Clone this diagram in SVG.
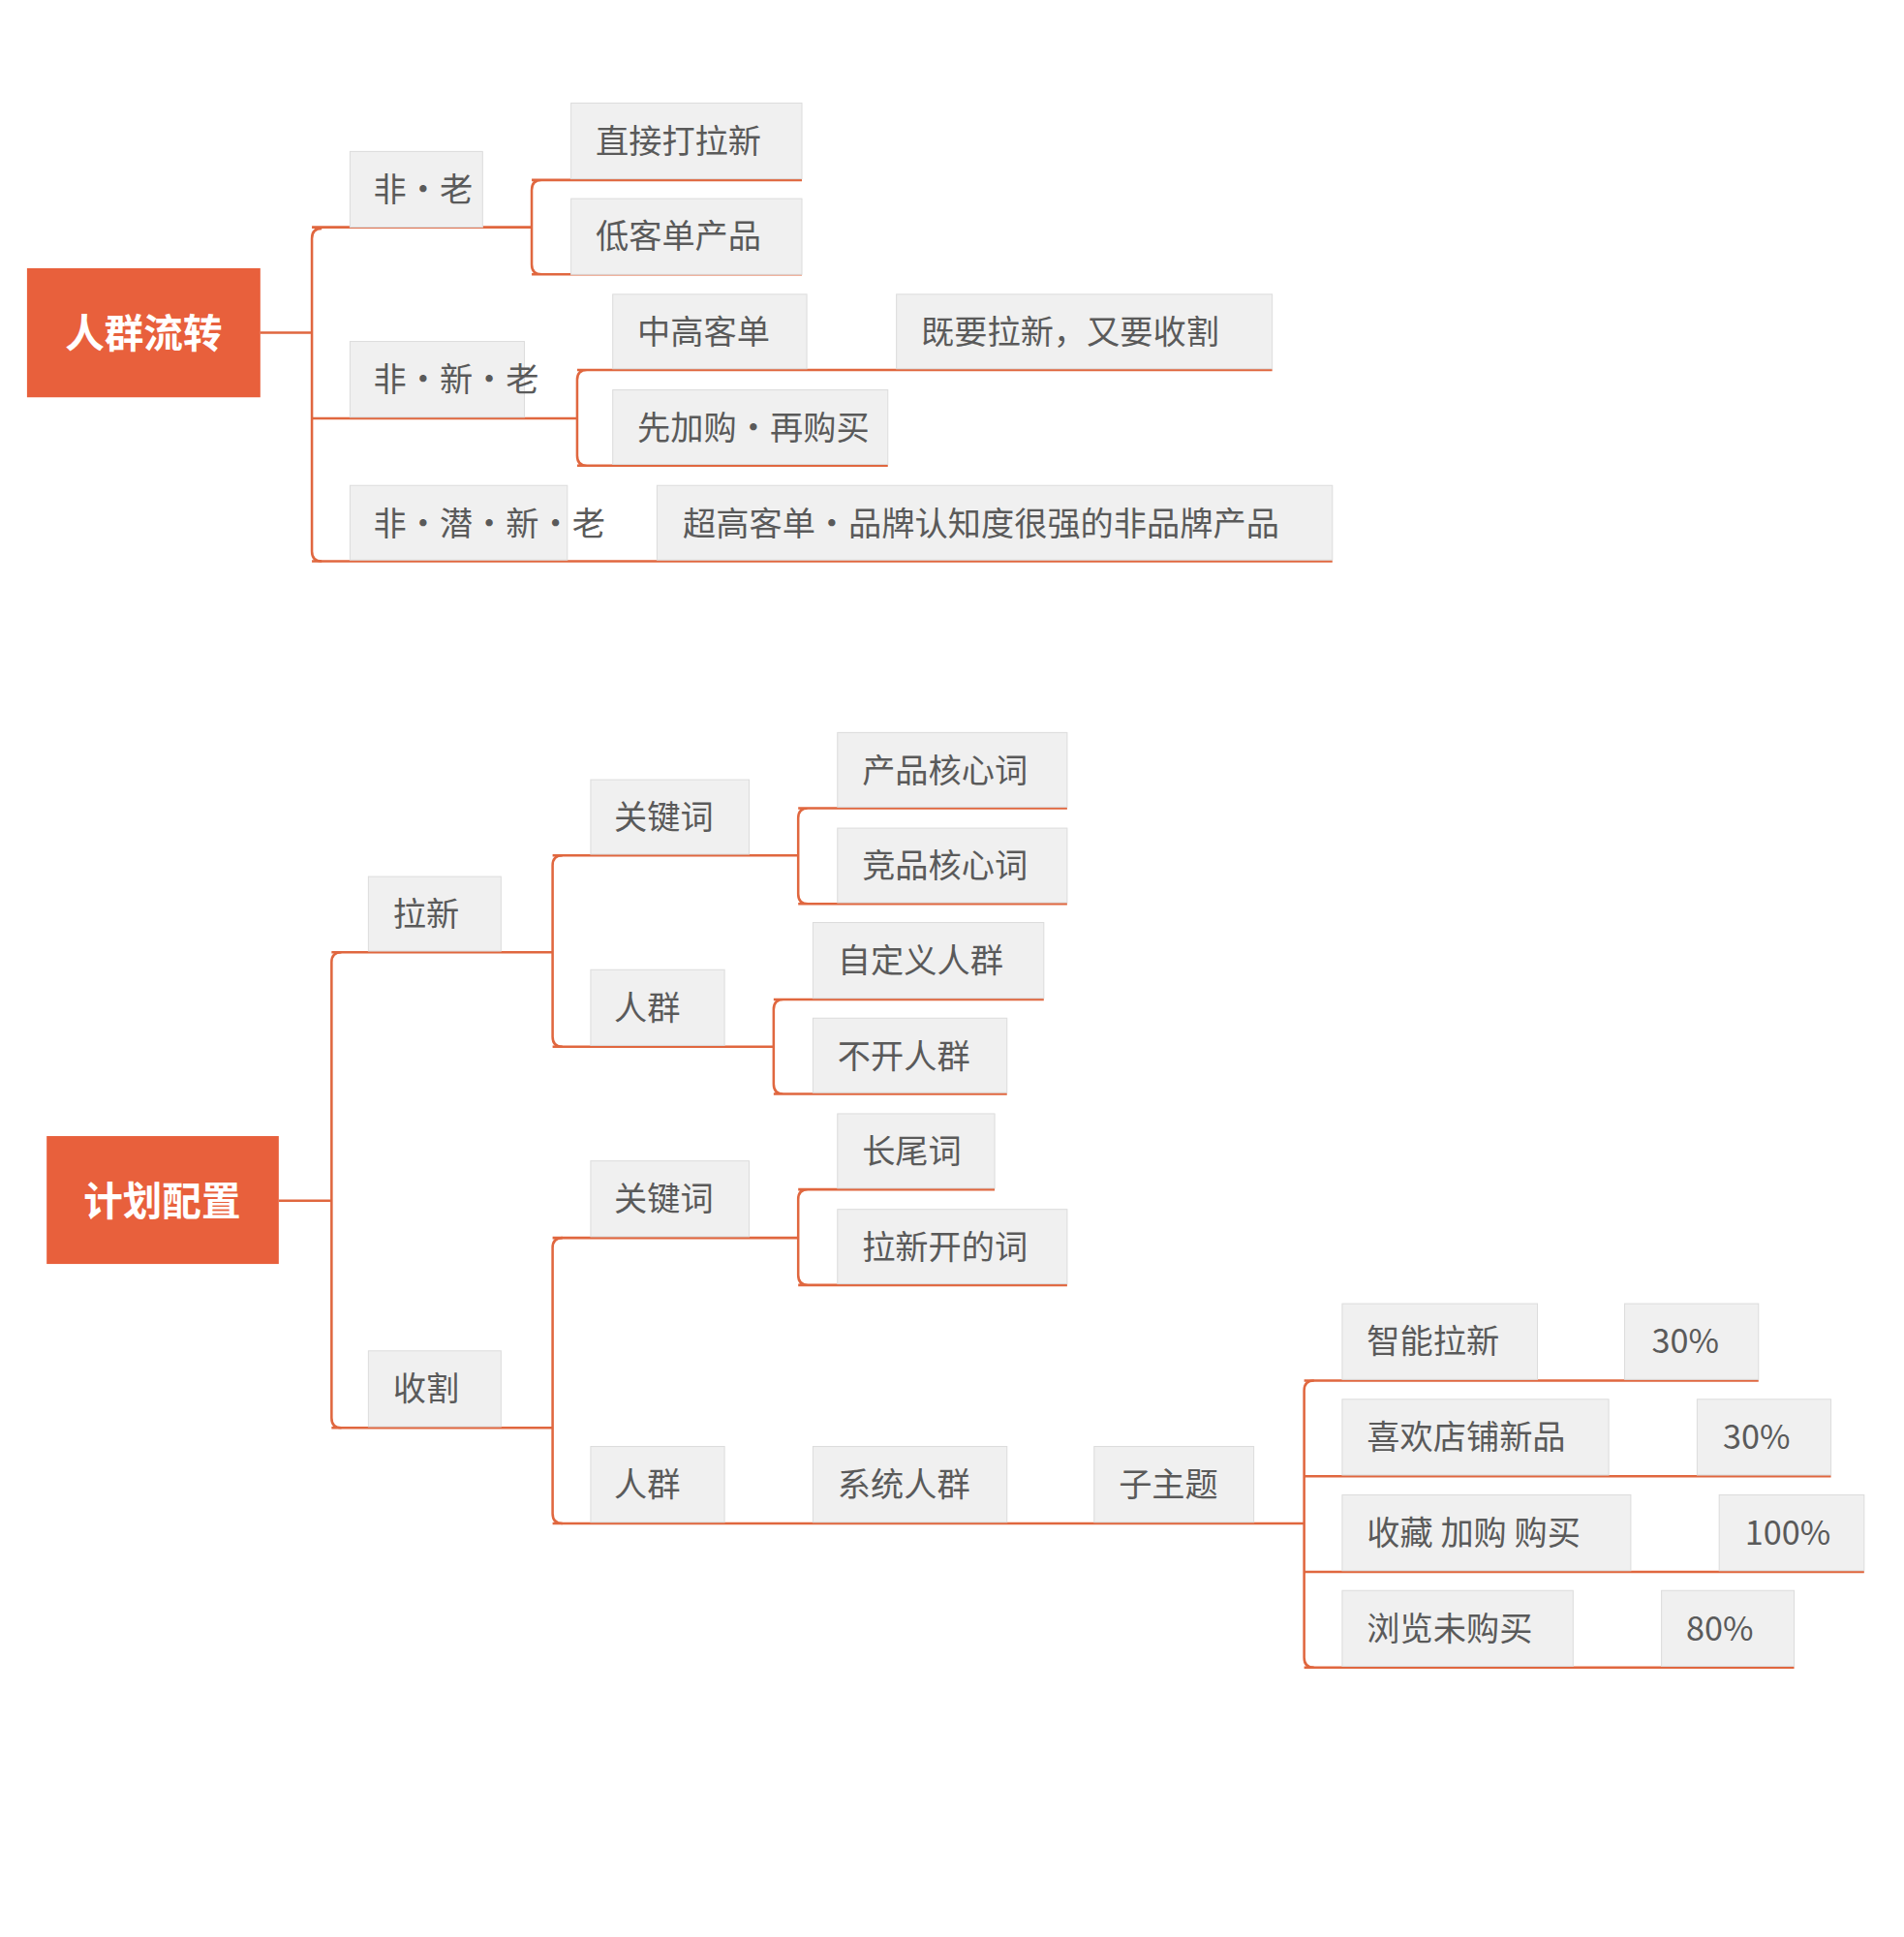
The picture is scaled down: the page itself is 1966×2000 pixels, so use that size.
<svg xmlns="http://www.w3.org/2000/svg" width="1966" height="2000" viewBox="0 0 1966 2000">
<style>
.b{fill:#f0f0f0;stroke:#dcdcdc;stroke-width:0.8}
.t{font-family:"Noto Sans CJK SC","Liberation Sans",sans-serif;font-size:27px;fill:#5a5a5a}
.r{fill:#e8603c}
.rt{font-family:"Noto Sans CJK SC","Liberation Sans",sans-serif;font-size:32px;font-weight:bold;fill:#fff}
.c{fill:none;stroke:#e0673f;stroke-width:2}
</style>
<rect width="1966" height="2000" fill="#fff"/>
<g transform="scale(1.268,1.282)">
<g id="connectors">
<path class="c" d="M212,268H254M262,184Q254,184 254,192V444Q254,452 262,452"/>
<path class="c" d="M254,183H433M441,145Q433,145 433,153V213Q433,221 441,221M433,145H653M433,221H653"/>
<path class="c" d="M254,337H470M478,298Q470,298 470,306V367Q470,375 478,375M470,298H1036M470,375H723"/>
<path class="c" d="M254,452H1085"/>
<path class="c" d="M227,967H270M278,767Q270,767 270,775V1142Q270,1150 278,1150"/>
<path class="c" d="M270,767H450M458,689Q450,689 450,697V835Q450,843 458,843"/>
<path class="c" d="M450,689H650M658,651Q650,651 650,659V720Q650,728 658,728M650,651H869M650,728H869"/>
<path class="c" d="M450,843H630M638,805Q630,805 630,813V873Q630,881 638,881M630,805H850M630,881H820"/>
<path class="c" d="M270,1150H450M458,997Q450,997 450,1005V1219Q450,1227 458,1227"/>
<path class="c" d="M450,997H650M658,958Q650,958 650,966V1027Q650,1035 658,1035M650,958H810M650,1035H869"/>
<path class="c" d="M450,1227H1062M1070,1112Q1062,1112 1062,1120V1335Q1062,1343 1070,1343"/>
<path class="c" d="M1062,1112H1432M1062,1189H1491M1062,1266H1518M1062,1343H1461"/>
</g>
<g id="root1"><rect class="r" x="22" y="216" width="190" height="104"/><text class="rt" x="117" y="280" text-anchor="middle">人群流转</text></g>
<g id="n1"><rect class="b" x="285" y="122" width="108" height="61"/><text class="t" x="304" y="162">非·老</text></g>
<g id="n2"><rect class="b" x="465" y="83" width="188" height="61"/><text class="t" x="485" y="123">直接打拉新</text></g>
<g id="n3"><rect class="b" x="465" y="160" width="188" height="61"/><text class="t" x="485" y="200">低客单产品</text></g>
<g id="n4"><rect class="b" x="285" y="275" width="142" height="61"/><text class="t" x="304" y="315">非·新·老</text></g>
<g id="n5"><rect class="b" x="499" y="237" width="158" height="60"/><text class="t" x="519" y="277">中高客单</text></g>
<g id="n6"><rect class="b" x="730" y="237" width="306" height="60"/><text class="t" x="750" y="277">既要拉新，又要收割</text></g>
<g id="n7"><rect class="b" x="499" y="314" width="224" height="60"/><text class="t" x="519" y="354">先加购·再购买</text></g>
<g id="n8"><rect class="b" x="285" y="391" width="177" height="60"/><text class="t" x="304" y="431">非·潜·新·老</text></g>
<g id="n9"><rect class="b" x="535" y="391" width="550" height="60"/><text class="t" x="556" y="431">超高客单·品牌认知度很强的非品牌产品</text></g>
<g id="root2"><rect class="r" x="38" y="915" width="189" height="103"/><text class="rt" x="132" y="979" text-anchor="middle">计划配置</text></g>
<g id="m1"><rect class="b" x="300" y="706" width="108" height="60"/><text class="t" x="320" y="746">拉新</text></g>
<g id="m2"><rect class="b" x="481" y="628" width="129" height="60"/><text class="t" x="500" y="668">关键词</text></g>
<g id="m3"><rect class="b" x="682" y="590" width="187" height="60"/><text class="t" x="702" y="630">产品核心词</text></g>
<g id="m4"><rect class="b" x="682" y="667" width="187" height="60"/><text class="t" x="702" y="707">竞品核心词</text></g>
<g id="m5"><rect class="b" x="481" y="781" width="109" height="61"/><text class="t" x="500" y="821">人群</text></g>
<g id="m6"><rect class="b" x="662" y="743" width="188" height="61"/><text class="t" x="682" y="783">自定义人群</text></g>
<g id="m7"><rect class="b" x="662" y="820" width="158" height="60"/><text class="t" x="682" y="860">不开人群</text></g>
<g id="m8"><rect class="b" x="300" y="1088" width="108" height="61"/><text class="t" x="320" y="1128">收割</text></g>
<g id="m9"><rect class="b" x="481" y="935" width="129" height="61"/><text class="t" x="500" y="975">关键词</text></g>
<g id="m10"><rect class="b" x="682" y="897" width="128" height="60"/><text class="t" x="702" y="937">长尾词</text></g>
<g id="m11"><rect class="b" x="682" y="974" width="187" height="60"/><text class="t" x="702" y="1014">拉新开的词</text></g>
<g id="m12"><rect class="b" x="481" y="1165" width="109" height="61"/><text class="t" x="500" y="1205">人群</text></g>
<g id="m13"><rect class="b" x="662" y="1165" width="158" height="61"/><text class="t" x="682" y="1205">系统人群</text></g>
<g id="m14"><rect class="b" x="891" y="1165" width="130" height="61"/><text class="t" x="911" y="1205">子主题</text></g>
<g id="m15"><rect class="b" x="1093" y="1050" width="159" height="61"/><text class="t" x="1113" y="1090">智能拉新</text></g>
<g id="m16"><rect class="b" x="1323" y="1050" width="109" height="61"/><text class="t" x="1345" y="1090">30%</text></g>
<g id="m17"><rect class="b" x="1093" y="1127" width="217" height="61"/><text class="t" x="1113" y="1167">喜欢店铺新品</text></g>
<g id="m18"><rect class="b" x="1382" y="1127" width="109" height="61"/><text class="t" x="1403" y="1167">30%</text></g>
<g id="m19"><rect class="b" x="1093" y="1204" width="235" height="61"/><text class="t" x="1113" y="1244">收藏 加购 购买</text></g>
<g id="m20"><rect class="b" x="1400" y="1204" width="118" height="61"/><text class="t" x="1421" y="1244">100%</text></g>
<g id="m21"><rect class="b" x="1093" y="1281" width="188" height="61"/><text class="t" x="1113" y="1321">浏览未购买</text></g>
<g id="m22"><rect class="b" x="1353" y="1281" width="108" height="61"/><text class="t" x="1373" y="1321">80%</text></g>
</g>
</svg>
